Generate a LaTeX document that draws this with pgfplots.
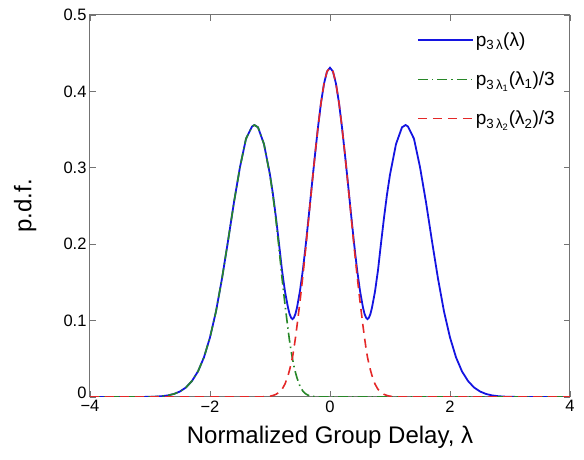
\documentclass[border=0pt]{standalone}
\usepackage{fontspec}
\setmainfont{Liberation Sans}
\usepackage{pgfplots}
\pgfplotsset{compat=1.18}

\definecolor{pblue}{RGB}{20,20,225}
\definecolor{pgreen}{RGB}{40,135,40}
\definecolor{pred}{RGB}{228,40,40}

\begin{document}
\begin{tikzpicture}
\begin{axis}[
    scale only axis,
    width=480pt, height=382pt,
    xmin=-4, xmax=4, ymin=0, ymax=0.5,
    xtick={-4,-2,0,2,4},
    xticklabels={−4,−2,0,2,4},
    ytick={0,0.1,0.2,0.3,0.4,0.5},
    yticklabels={\raisebox{9pt}{0},0.1,0.2,0.3,0.4,0.5},
    tick label style={font=\fontsize{16.5}{18}\selectfont},
    xlabel={Normalized Group Delay, λ},
    ylabel={p.d.f.},
    label style={font=\fontsize{24}{28}\selectfont},
    xlabel style={at={(axis description cs:0.5,-0.105)}, anchor=center},
    ylabel style={at={(axis description cs:-0.135,0.5)}, anchor=center},
    axis line style={black!55, line width=1pt},
    major tick length=6pt,
    tick style={black!55, line width=0.8pt},
    legend style={draw=none, fill=none, inner sep=0pt,
        at={(axis description cs:0.681,0.96)}, anchor=north west,
        font=\fontsize{19}{22}\selectfont, row sep=20pt},
    legend cell align=left,
    legend image code/.code={\draw[#1] (0pt,0pt) -- (55pt,0pt);},
]

% p_{3 lambda}(lambda)
\addplot[color=pblue, line width=1.8pt] coordinates {
(-4,0) (-3.5,0) (-3.2,0.00003) (-3,0.0002) (-2.9,0.0005) (-2.8,0.0011)
(-2.7,0.0021) (-2.6,0.004) (-2.5,0.0072) (-2.4,0.0125) (-2.3,0.021)
(-2.2,0.0335) (-2.1,0.052) (-2,0.078) (-1.9,0.112) (-1.8,0.155)
(-1.7,0.204) (-1.6,0.255) (-1.5,0.301) (-1.4,0.338) (-1.3,0.354)
(-1.26,0.356) (-1.2,0.353) (-1.1,0.331) (-1,0.291) (-0.95,0.265)
(-0.9,0.2345) (-0.85,0.201) (-0.8,0.166) (-0.75,0.138) (-0.7,0.117)
(-0.675,0.109) (-0.65,0.104) (-0.625,0.102) (-0.6,0.104) (-0.575,0.109)
(-0.55,0.117) (-0.5,0.139)
(-0.45,0.1675) (-0.4,0.202) (-0.35,0.240) (-0.3,0.279) (-0.25,0.317)
(-0.2,0.353) (-0.15,0.385) (-0.1,0.410) (-0.05,0.426) (0,0.431)
(0.05,0.426) (0.1,0.410) (0.15,0.385) (0.2,0.353) (0.25,0.317)
(0.3,0.279) (0.35,0.240) (0.4,0.202) (0.45,0.1675) (0.5,0.139)
(0.55,0.117) (0.575,0.109) (0.6,0.104) (0.625,0.102) (0.65,0.104)
(0.675,0.109) (0.7,0.117)
(0.75,0.138) (0.8,0.166) (0.85,0.201) (0.9,0.2345) (0.95,0.265)
(1,0.291) (1.1,0.331) (1.2,0.353) (1.26,0.356) (1.3,0.354)
(1.4,0.338) (1.5,0.301) (1.6,0.255) (1.7,0.204) (1.8,0.155)
(1.9,0.112) (2,0.078) (2.1,0.052) (2.2,0.0335) (2.3,0.021)
(2.4,0.0125) (2.5,0.0072) (2.6,0.004) (2.7,0.0021) (2.8,0.0011)
(2.9,0.0005) (3,0.0002) (3.2,0.00003) (3.5,0) (4,0)
};
\addlegendentry{p\textsubscript{3\,λ}(λ)}

% p_{3 lambda_1}(lambda_1)/3
\addplot[color=pgreen, line width=1.6pt, dash pattern=on 10pt off 4pt on 1.5pt off 4pt] coordinates {
(-4,0) (-3.5,0) (-3,0.0002) (-2.9,0.0005) (-2.8,0.0011) (-2.7,0.0021)
(-2.6,0.004) (-2.5,0.0072) (-2.4,0.0125) (-2.3,0.021) (-2.2,0.0335)
(-2.1,0.052) (-2,0.078) (-1.9,0.112) (-1.8,0.155) (-1.7,0.204)
(-1.6,0.255) (-1.5,0.301) (-1.4,0.338) (-1.3,0.354) (-1.26,0.356)
(-1.2,0.353) (-1.1,0.331) (-1,0.290) (-0.95,0.263) (-0.9,0.231)
(-0.85,0.195) (-0.8,0.156) (-0.75,0.121) (-0.7,0.089) (-0.675,0.074)
(-0.65,0.061) (-0.625,0.050) (-0.6,0.040) (-0.575,0.032) (-0.55,0.025)
(-0.5,0.014) (-0.45,0.0075)
(-0.4,0.0038) (-0.35,0.0018) (-0.3,0.0008) (-0.2,0.0002) (-0.1,0)
(0,0) (4,0)
};
\addlegendentry{p\textsubscript{3\,λ\textsubscript{1}}(λ\textsubscript{1})/3}

% p_{3 lambda_2}(lambda_2)/3
\addplot[color=pred, line width=1.6pt, dash pattern=on 9pt off 6pt] coordinates {
(-4,0) (-1.2,0) (-1.1,0.0003) (-1,0.001) (-0.95,0.002) (-0.9,0.0035)
(-0.85,0.006) (-0.8,0.010) (-0.75,0.017) (-0.7,0.028) (-0.675,0.035)
(-0.65,0.043) (-0.625,0.052) (-0.6,0.064) (-0.575,0.078) (-0.55,0.093)
(-0.5,0.125) (-0.45,0.160)
(-0.4,0.198) (-0.35,0.238) (-0.3,0.278) (-0.25,0.317) (-0.2,0.353)
(-0.15,0.385) (-0.1,0.410) (-0.05,0.426) (0,0.431) (0.05,0.426)
(0.1,0.410) (0.15,0.385) (0.2,0.353) (0.25,0.317) (0.3,0.278)
(0.35,0.238) (0.4,0.198) (0.45,0.160) (0.5,0.125) (0.55,0.093)
(0.575,0.078) (0.6,0.064) (0.625,0.052) (0.65,0.043) (0.675,0.035)
(0.7,0.028) (0.75,0.017)
(0.8,0.010) (0.85,0.006) (0.9,0.0035) (0.95,0.002) (1,0.001)
(1.1,0.0003) (1.2,0) (4,0)
};
\addlegendentry{p\textsubscript{3\,λ\textsubscript{2}}(λ\textsubscript{2})/3}

\end{axis}
\pgfresetboundingbox
\path (-90pt,-63pt) rectangle (494pt,397pt);
\end{tikzpicture}
\end{document}
